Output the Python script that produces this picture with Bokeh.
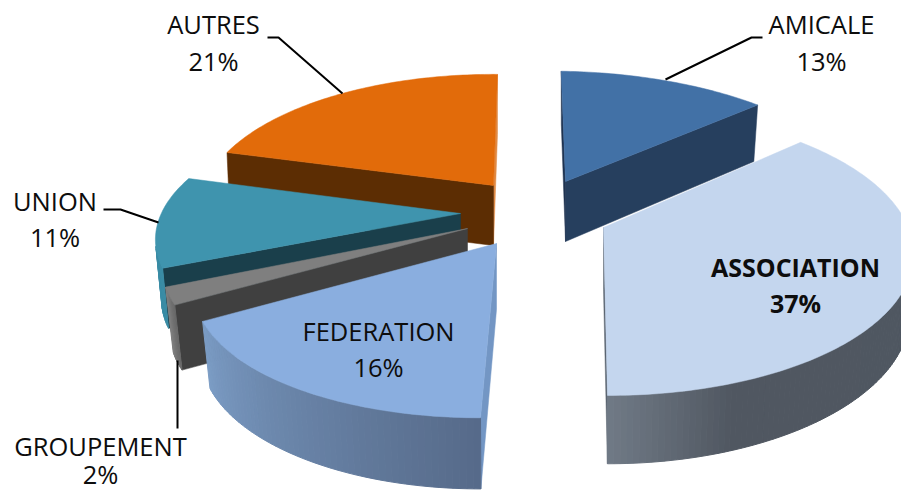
import math
from bokeh.plotting import figure
from bokeh.models import Range1d
from bokeh.core.properties import value
from bokeh.embed import file_html
from bokeh.resources import INLINE

# ---------- data ----------
categories = ["AMICALE", "ASSOCIATION", "FEDERATION", "GROUPEMENT", "UNION", "AUTRES"]
percents = [13, 37, 16, 2, 11, 21]

# ---------- layout of the exploded 3-D slices (pixels of the 901x491 picture) ----------
# cx, cy: apex; rx, ry: radii; k: perspective; shx, shy: shear;
# H: depth; k2: perspective of lower rim; xs: x scale of lower rim
geometry = {
    "AMICALE":     dict(cx=565, cy=181, rx=299, ry=129, k=.17, shx=5,     shy=4,   H=60, k2=.10, xs=.98),
    "ASSOCIATION": dict(cx=603, cy=227, rx=305, ry=139.4, k=.17, shx=3.3, shy=.5,  H=62, k2=.20, xs=.985),
    "FEDERATION":  dict(cx=496, cy=243, rx=285, ry=122, k=.30, shx=-11.2, shy=0,   H=66, k2=.32, xs=.975),
    "GROUPEMENT":  dict(cx=467, cy=228, rx=291, ry=120, k=.30, shx=0,     shy=0,   H=65, k2=.30, xs=.975),
    "UNION":       dict(cx=460, cy=213, rx=297, ry=129, k=.17, shx=-17.9, shy=4.5, H=60, k2=.17, xs=.98),
    "AUTRES":      dict(cx=493, cy=185, rx=288, ry=130, k=.17, shx=-4.7,  shy=2.1, H=60, k2=.17, xs=.99),
}
paint_order = ["AUTRES", "AMICALE", "UNION", "GROUPEMENT", "FEDERATION", "ASSOCIATION"]
styles = {
    "AMICALE":     dict(top="#4271a6", start="#1e3350", end="#263f5e", rim=[(0, (38, 63, 94)), (1, (38, 63, 94))]),
    "ASSOCIATION": dict(top="#c4d6ee", start="#5a6470", end="#5a6470",
                        rim=[(0, (78, 86, 96)), (.85, (80, 87, 97)), (1, (112, 122, 134))]),
    "FEDERATION":  dict(top="#8aaedf", start="#7396c4", end="#7396c4", rim=[(0, (86, 106, 137)), (1, (123, 156, 197))]),
    "GROUPEMENT":  dict(top="#7f7f7f", start="#404040", end="#404040", rim=[(0, (102, 102, 102)), (1, (128, 128, 128))]),
    "UNION":       dict(top="#3f94ae", start="#1a3f4b", end="#1a3f4b", rim=[(0, (58, 140, 165)), (1, (58, 140, 165))]),
    "AUTRES":      dict(top="#e26b0a", start="#5c2d03", end="#e08a45", rim=[(0, (92, 45, 3)), (1, (92, 45, 3))]),
}
# label centre x, then the y of the name and of the percentage
labels_at = {
    "AMICALE": (821, 23.5, 60), "ASSOCIATION": (795, 266.5, 302.5), "FEDERATION": (378, 330, 366.5),
    "GROUPEMENT": (100, 445, 473), "UNION": (54.5, 200, 236), "AUTRES": (213, 23.5, 60),
}
leaders = {
    "AMICALE": ([762, 751, 665], [37, 37, 79]),
    "AUTRES": ([267, 278, 342], [37, 37, 93]),
    "UNION": ([103, 120, 158], [209, 209, 222]),
    "GROUPEMENT": ([177, 177], [360, 428]),
}


def top_pt(g, deg):
    t = math.radians(deg)
    u, v = math.sin(t), -math.cos(t)
    f = 1 / (1 - g["k"] * v)
    return g["cx"] + (g["rx"] * u + g["shx"] * v) * f, g["cy"] + (g["ry"] * v + g["shy"] * u) * f


def low_pt(g, deg):
    t = math.radians(deg)
    u, v = math.sin(t), -math.cos(t)
    f = 1 / (1 - g["k"] * v)
    f2 = 1 / (1 - g["k2"] * v)
    return (g["cx"] + g["xs"] * (g["rx"] * u + g["shx"] * v) * f,
            g["cy"] + g["H"] + (g["ry"] * v + g["shy"] * u) * f2)


def area(pts):
    return sum(pts[i][0] * pts[(i + 1) % len(pts)][1] - pts[(i + 1) % len(pts)][0] * pts[i][1]
               for i in range(len(pts)))


def lerp_color(stops, t):
    for (t0, c0), (t1, c1) in zip(stops, stops[1:]):
        if t <= t1:
            w = (t - t0) / (t1 - t0) if t1 > t0 else 0
            return "#%02x%02x%02x" % tuple(round(a + (b - a) * w) for a, b in zip(c0, c1))
    return "#%02x%02x%02x" % stops[-1][1]


p = figure(width=901, height=491, output_backend="svg", toolbar_location=None,
           x_range=Range1d(0, 901), y_range=Range1d(491, 0), min_border=0,
           x_axis_type=None, y_axis_type=None, outline_line_color=None,
           background_fill_color="white", border_fill_color="white")
p.grid.visible = False

spans = {}
acc = 0
for c, pc in zip(categories, percents):
    spans[c] = (acc * 3.6, (acc + pc) * 3.6)
    acc += pc

for c in paint_order:
    g, st = geometry[c], styles[c]
    a0, a1 = spans[c]
    n = max(2, int(a1 - a0))
    angles = [a0 + (a1 - a0) * i / n for i in range(n + 1)]
    apex = (g["cx"], g["cy"])
    apex_low = (g["cx"], g["cy"] + g["H"])
    # radial faces, with back-face culling
    for deg, colour, sign in ((a1, st["end"], 1), (a0, st["start"], -1)):
        q = [apex, top_pt(g, deg), low_pt(g, deg), apex_low]
        if area(q) * sign > 0:
            p.patch([a for a, _ in q], [b for _, b in q], fill_color=colour, line_color=colour, line_width=.5)
    # outer rim
    for i in range(n):
        q = [top_pt(g, angles[i]), top_pt(g, angles[i + 1]), low_pt(g, angles[i + 1]), low_pt(g, angles[i])]
        if area(q) < 0:
            colour = lerp_color(st["rim"], (i + .5) / n)
            p.patch([a for a, _ in q], [b for _, b in q], fill_color=colour, line_color=colour, line_width=1)
    # top
    arc = [top_pt(g, a) for a in angles]
    p.patch([apex[0]] + [a for a, _ in arc], [apex[1]] + [b for _, b in arc],
            fill_color=st["top"], line_color=st["top"], line_width=.5)

for c, (xs, ys) in leaders.items():
    p.line(xs, ys, line_color="black", line_width=2)

for c, pc in zip(categories, percents):
    x, y1, y2 = labels_at[c]
    bold = c == "ASSOCIATION"
    for txt, y in ((c, y1), (f"{pc}%", y2)):
        p.text([x], [y], text=[txt], text_font=value("Open Sans"),
               text_font_size="25px" if bold else "25.5px",
               text_font_style="bold" if bold else "normal",
               text_align="center", text_baseline="middle", text_color="#0d0d0d")

open("out.html", "w").write(file_html(p, INLINE))
